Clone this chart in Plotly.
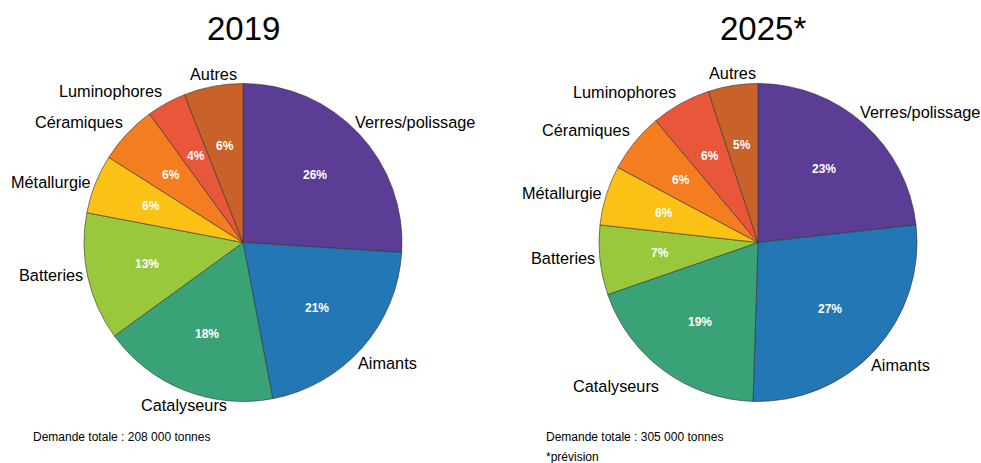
import math
import plotly.graph_objects as go

categories = ["Verres/polissage", "Aimants", "Catalyseurs", "Batteries",
              "Métallurgie", "Céramiques", "Luminophores", "Autres"]
values_2019 = [26, 21, 18, 13, 6, 6, 4, 6]
values_2025 = [23, 27, 19, 7, 6, 6, 6, 5]
titles = ["2019", "2025*"]
notes_2019 = ["Demande totale : 208 000 tonnes"]
notes_2025 = ["Demande totale : 305 000 tonnes", "*prévision"]

colors = ["#5B3D96", "#2277B4", "#39A377", "#9AC83C",
          "#FBC115", "#F47D20", "#E9573A", "#C9622A"]

W, H = 981, 463
R = 159
cy = 242.5
centers_x = [243, 758]
title_x = [243, 763]

FONT = "Liberation Sans, Arial, sans-serif"

fig = go.Figure()
annotations = []

for vals, cx in zip([values_2019, values_2025], centers_x):
    dom = dict(x=[(cx - R) / W, (cx + R) / W],
               y=[(H - cy - R) / H, (H - cy + R) / H])
    fig.add_trace(go.Pie(
        labels=categories, values=vals, sort=False, direction="clockwise",
        rotation=0, domain=dom,
        marker=dict(colors=colors, line=dict(color="#333333", width=0.6)),
        textinfo="none",
        showlegend=False, hoverinfo="label+value",
    ))
    # labels derived from the slice mid-angles of the data
    total = sum(vals)
    cum = 0
    for cat, v in zip(categories, vals):
        ang = (cum + v / 2) / total * 2 * math.pi
        cum += v
        s, c = math.sin(ang), math.cos(ang)
        # outside category label: box touches the rim at the mid-angle
        px, py = cx + R * s, cy - R * c
        if s > 0.4:
            xa, px = "left", px - 6
        elif s < -0.4:
            xa, px = "right", px - 2.5
        else:
            xa = "center"
        if c > 0.4:
            ya, py = "bottom", py - 1
        elif c < -0.4:
            ya, py = "top", py + 4
        else:
            ya, py = "middle", py - 2
        annotations.append(dict(text=cat, x=px / W, y=1 - py / H,
                                xref="paper", yref="paper", showarrow=False,
                                xanchor=xa, yanchor=ya,
                                font=dict(family=FONT, size=16.3, color="black")))
        # inside percentage
        ri = 0.62 * R
        qx, qy = cx + ri * s, cy - ri * c
        annotations.append(dict(text=f"{v}%", x=qx / W, y=1 - qy / H,
                                xref="paper", yref="paper", showarrow=False,
                                xanchor="center", yanchor="middle",
                                font=dict(family=FONT, size=12, color="white", weight="bold")))

for t, tx in zip(titles, title_x):
    annotations.append(dict(text=t, x=tx / W, y=1 - 28 / H, xref="paper", yref="paper",
                            showarrow=False, xanchor="center", yanchor="middle",
                            font=dict(family=FONT, size=33, color="black")))
for i, n in enumerate(notes_2019):
    annotations.append(dict(text=n, x=31 / W, y=1 - (437 + 20 * i) / H, xref="paper", yref="paper",
                            showarrow=False, xanchor="left", yanchor="middle",
                            font=dict(family=FONT, size=12, color="black")))
for i, n in enumerate(notes_2025):
    annotations.append(dict(text=n, x=544 / W, y=1 - (437 + 20 * i) / H, xref="paper", yref="paper",
                            showarrow=False, xanchor="left", yanchor="middle",
                            font=dict(family=FONT, size=12, color="black")))

fig.update_layout(
    width=W, height=H,
    margin=dict(l=0, r=0, t=0, b=0),
    paper_bgcolor="white", plot_bgcolor="white",
    annotations=annotations,
    font=dict(family=FONT),
)

fig.write_html("out.html", config={"displayModeBar": False},
               post_script="document.body.style.margin='0';document.body.style.overflow='hidden';")
